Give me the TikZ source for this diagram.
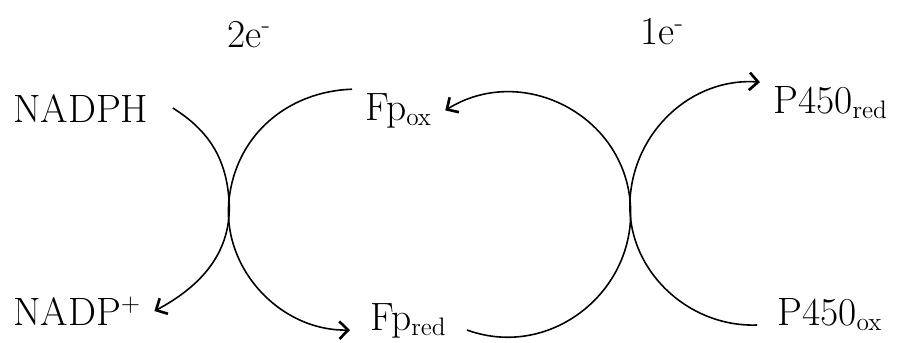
\documentclass[tikz,border=0pt]{standalone}
\usepackage{tikz}
\usetikzlibrary{arrows.meta, positioning}

\begin{document}
\begin{tikzpicture}[
    x=0.02cm, y=0.02cm,
    font={\fontsize{22.5}{27}\selectfont},
    spec/.style={anchor=base west, inner xsep=7.4pt, inner ysep=2pt},
    elec/.style={anchor=base west, inner sep=0pt},
    flow/.style={line width=0.9pt,
                 -{Straight Barb[length=5pt, width=10pt, line width=1.5pt]}}
  ]
  \useasboundingbox (0,0) rectangle (898,342);
  \node[spec, inner xsep=13.7pt] (nadph) at (-11,220) {NADPH};
  \node[spec] (nadpp) at (0,17) {NADP$^+$};
  \node[spec] (fpox) at (352,222) {Fp$_{\mathrm{ox}}$};
  \node[spec, inner xsep=11.4pt] (fpred) at (350,12) {Fp$_{\mathrm{red}}$};
  \node[spec] (p450red) at (760,229) {P450$_{\mathrm{red}}$};
  \node[spec, inner xsep=11.4pt] (p450ox) at (757,17) {P450$_{\mathrm{ox}}$};
  \node[elec] (twoel) at (227,295) {2e\textsuperscript{-}};
  \node[elec] (oneel) at (640,297) {1e\textsuperscript{-}};
  \coordinate (xl) at (229,142);
  \coordinate (xr) at (630,142);
  \draw[flow] (nadph.east) to[out=-32, in=94] (xl)
    to[out=-86, in=28] (nadpp.east);
  \draw[flow] (fpox.north west) to[out=182, in=84] (xl)
    to[out=264, in=181] (fpred.base west);
  \draw[flow] (fpred.base east) to[out=-20, in=-84, looseness=1.1] (xr)
    to[out=96, in=32, looseness=1.1] (fpox.east);
  \draw[flow] (p450ox.base west) to[out=182, in=-93] (xr)
    to[out=87, in=176] (p450red.north west);
\end{tikzpicture}
\end{document}
